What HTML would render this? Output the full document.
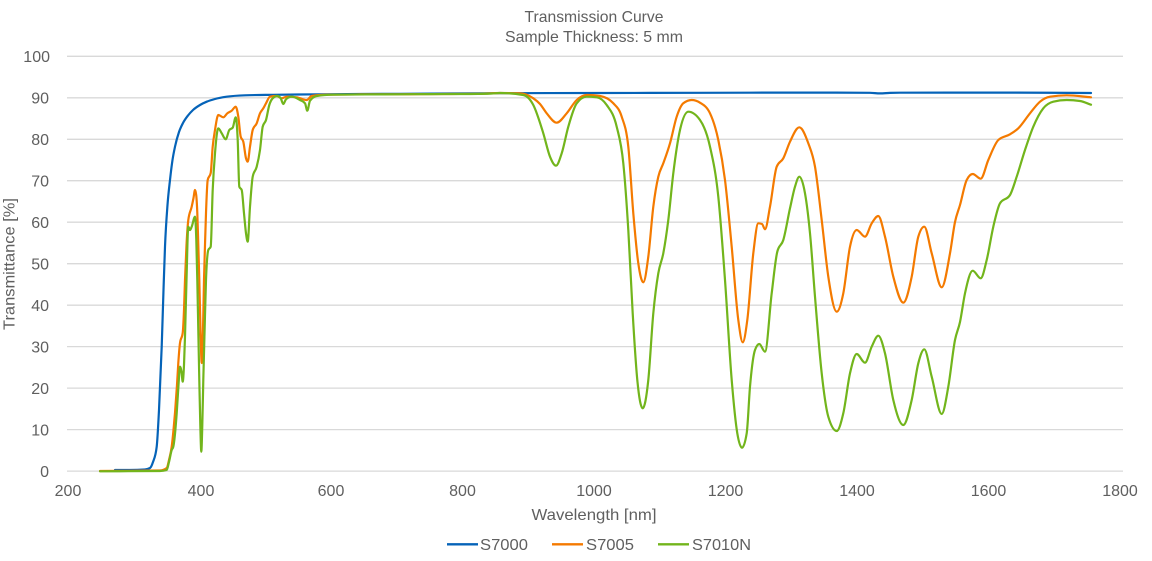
<!DOCTYPE html>
<html>
<head>
<meta charset="utf-8">
<style>
  html,body{margin:0;padding:0;background:#fff;}
  svg{display:block;}
  text{font-family:"Liberation Sans",sans-serif;fill:#5f5f5f;}
</style>
</head>
<body>
<svg id="chart" width="1152" height="561" viewBox="0 0 1152 561" xmlns="http://www.w3.org/2000/svg">
  <rect x="0" y="0" width="1152" height="561" fill="#fff"/>
  <!-- Title -->
  <text x="594" y="22" font-size="16" text-anchor="middle" textLength="139" lengthAdjust="spacingAndGlyphs">Transmission Curve</text>
  <text x="594" y="42" font-size="16" text-anchor="middle" textLength="178" lengthAdjust="spacingAndGlyphs">Sample Thickness: 5 mm</text>

  <!-- gridlines -->
  <g stroke="#d9d9d9" stroke-width="1.3">
    <line x1="67" x2="1123" y1="56.3" y2="56.3"/>
    <line x1="67" x2="1123" y1="97.8" y2="97.8"/>
    <line x1="67" x2="1123" y1="139.3" y2="139.3"/>
    <line x1="67" x2="1123" y1="180.7" y2="180.7"/>
    <line x1="67" x2="1123" y1="222.2" y2="222.2"/>
    <line x1="67" x2="1123" y1="263.7" y2="263.7"/>
    <line x1="67" x2="1123" y1="305.2" y2="305.2"/>
    <line x1="67" x2="1123" y1="346.6" y2="346.6"/>
    <line x1="67" x2="1123" y1="388.1" y2="388.1"/>
    <line x1="67" x2="1123" y1="429.6" y2="429.6"/>
    <line x1="67" x2="1123" y1="471.1" y2="471.1"/>
  </g>

  <!-- y tick labels -->
  <g font-size="16" text-anchor="end">
    <text x="50" y="62">100</text>
    <text x="49" y="103.5">90</text>
    <text x="49" y="145">80</text>
    <text x="49" y="186.5">70</text>
    <text x="49" y="228">60</text>
    <text x="49" y="269.5">50</text>
    <text x="49" y="311">40</text>
    <text x="49" y="352.5">30</text>
    <text x="49" y="394">20</text>
    <text x="49" y="435.5">10</text>
    <text x="49" y="477">0</text>
  </g>

  <!-- x tick labels -->
  <g font-size="16" text-anchor="middle">
    <text x="68" y="496">200</text>
    <text x="201" y="496">400</text>
    <text x="331" y="496">600</text>
    <text x="462.5" y="496">800</text>
    <text x="594" y="496">1000</text>
    <text x="725.5" y="496">1200</text>
    <text x="857" y="496">1400</text>
    <text x="988.5" y="496">1600</text>
    <text x="1120" y="496">1800</text>
  </g>

  <!-- axis titles -->
  <text x="594" y="520" font-size="16" text-anchor="middle" textLength="125" lengthAdjust="spacingAndGlyphs">Wavelength [nm]</text>
  <text transform="translate(14.5,264) rotate(-90)" x="0" y="0" font-size="16" text-anchor="middle" textLength="132" lengthAdjust="spacingAndGlyphs">Transmittance [%]</text>

  <!-- series -->
  <g id="series" fill="none" stroke-width="2.2" stroke-linejoin="round" stroke-linecap="round">
    <polyline stroke="#0563b8" points="115,470 130,470 145,469.5 150,468 153,462 156.7,446.7 159,410 161.7,346.7 163.5,290 165,246.7 167.5,205 170,180 172.5,160 175,146.7 179,132 183,123 188,115.5 193,110 200,105 206.7,101.7 215,99 226.7,96.7 245,95.3 273,94.8 320,94.3 400,93.8 500,93.2 600,93 700,92.8 800,92.6 870,92.8 880,93.4 890,92.9 900,92.7 1000,92.6 1091,93"/>
    <polyline stroke="#f47a00" points="100,471 160,470.5 166.7,468 169,460 171.7,446.7 173.5,430 175,413 177,385 178.3,363 180,343 182.7,333 184,310 185,280 186.5,245 188.3,220 191.7,206.7 193.5,198 195,190 196.2,195 197.3,213 198.3,245 199.3,280 200.5,330 201.7,363 203,330 204,280 205,245 206,213 207.7,180 210.7,173 212.7,146.7 215,130 218.3,115 223.3,117.3 227.3,113.3 231.7,110.7 235.7,106.7 238.3,116.7 240.7,136.7 243.3,141.7 246,158.3 247.7,161.7 250,146.7 252.7,130 256.7,123.3 260,113.3 263.3,108.3 266,103.3 270,96.7 276.7,96 281.7,98.3 286.7,96.7 296.7,97.3 306.7,100 311.7,96 326.7,94.7 360,94.4 400,94.3 420,94.2 450,94 480,93.8 500,93 520,93.3 533.3,98.3 540,104 546.7,113.3 556.7,122.7 566.7,113.3 576.7,100 586.7,95 600,96 613.3,103.3 621.7,116.7 628.3,146.7 633.3,213.3 638.3,263.3 643.3,282.3 648.3,256.7 653.3,206.7 658.3,176.7 663.3,163.3 670,143.3 676.7,116.7 683.3,103.3 691.7,100 700,102.7 710,113.3 718.3,140 725,180 731.7,246.7 738.3,320 742.7,342.3 747.3,320 753.3,253.3 758.3,223.3 762,224 765,229.3 770,206.7 776.7,166.7 783.3,158.3 790,141.7 799.3,127.3 808.3,143.3 815,166.7 821.7,220 828.3,276.7 836.7,311.7 843.3,293.3 850,246.7 856.7,230 865,236.7 871.7,223.3 878.3,216 885,236.7 893.3,276.7 903.3,302.7 911.7,276.7 918.3,236.7 924.3,226.7 931.7,253.3 941.7,287.3 950,253.3 955,222 960,205 966.7,180 972.7,174 980.7,178.7 988.3,160 998.3,140 1010,134.3 1018.3,128.3 1030,113.3 1040,101.7 1050,96.7 1066.7,95.3 1091,97.3"/>
    <polyline stroke="#72b51c" points="100,471.3 160,471 166.7,470 169,462 171.7,450 173.3,446.7 176.7,413.3 178.5,385 180,366.7 181.5,372 182.7,381.7 184,365 185,336.7 186.5,280 188.3,226.7 190,230 191.7,226.7 195,216.7 196.3,240 197.3,280 198.3,330 199.3,380 200.3,425 201.3,451.7 202.3,425 203.3,380 204.6,330 206,280 208.3,250 210.7,246.7 212.7,190 215,153.3 218.3,128.3 221.7,133.3 225.7,139.3 229.3,130 232.7,127.7 235.7,117.3 237.7,140 239.3,186.7 241.7,190 244,213.3 246,233.3 247.7,241.7 250,206.7 252.7,176.7 256.7,166.7 260,150 262.7,126.7 266,120 269.3,105 272.7,98.3 277.3,96 280.7,98.3 283.3,104 286,99.3 291.7,96.7 300,100 305,103.3 307.3,110.7 310,100.7 316.7,96 333.3,94.7 400,94.3 430,94.1 460,94 490,93.6 500,93 523.3,95 533.3,105 543.3,133.3 550,156.7 556,165.7 561.7,153.3 568.3,126.7 576.7,103.3 586.7,96.7 596.7,97.3 606.7,105 616.7,126.7 623.3,163.3 628.3,230 632.7,313.3 637.3,380 642.7,408.3 648.3,380 653.3,313.3 658.3,273.3 663.3,253.3 668.3,220 673.3,173.3 680,130 688.3,111.7 700,120 710,146.7 718.3,196.7 725,280 731.7,380 737.3,433.3 742,447.7 746.7,433.3 750,386.7 755,350 759.3,344 765,351.7 771.7,293.3 777.3,251.7 783.3,240 790,208.3 795,186.7 799.3,176.7 805,193.3 810,233.3 815,296.7 821.7,373.3 828.3,416.7 836.7,431 843.3,413.3 850,373.3 856.7,354 865,362.7 871.7,346.7 878.3,335.7 885,353.3 893.3,400 903.3,425 911.7,400 918.3,363.3 924.3,349.3 931.7,376.7 941.7,414 948.3,386.7 955,340 960,322 965,293.3 972.7,270.7 980.7,278.3 986.7,260 993.3,226.7 1000,203.3 1010,195 1016.7,176.7 1025,150 1033.3,126.7 1043.3,108.3 1053.3,101.7 1066.7,100 1080,101 1091,104.7"/>
  </g>

  <!-- legend -->
  <g stroke-width="2.3">
    <line x1="447" x2="478" y1="544.3" y2="544.3" stroke="#0563b8"/>
    <line x1="552" x2="583" y1="544.3" y2="544.3" stroke="#f47a00"/>
    <line x1="658" x2="689" y1="544.3" y2="544.3" stroke="#72b51c"/>
  </g>
  <g font-size="16">
    <text x="480" y="550" textLength="48" lengthAdjust="spacingAndGlyphs">S7000</text>
    <text x="586" y="550" textLength="48" lengthAdjust="spacingAndGlyphs">S7005</text>
    <text x="692" y="550" textLength="59" lengthAdjust="spacingAndGlyphs">S7010N</text>
  </g>
</svg>
<script>
(function(){
  var NS="http://www.w3.org/2000/svg";
  var polys=document.querySelectorAll("#series polyline");
  function sign(v){return v<0?-1:1;}
  for(var k=0;k<polys.length;k++){
    var pl=polys[k];
    var raw=pl.getAttribute("points").trim().split(/\s+/);
    var x=[],y=[];
    for(var i=0;i<raw.length;i++){var a=raw[i].split(",");x.push(+a[0]);y.push(+a[1]);}
    var n=x.length, s=[], h=[], m=[];
    for(var i=0;i<n-1;i++){h[i]=x[i+1]-x[i];s[i]=(y[i+1]-y[i])/h[i];}
    m[0]=s[0]; m[n-1]=s[n-2];
    for(var i=1;i<n-1;i++){
      var s0=s[i-1],s1=s[i],h0=h[i-1],h1=h[i];
      var p=(s0*h1+s1*h0)/(h0+h1);
      m[i]=(sign(s0)+sign(s1))*Math.min(Math.abs(s0),Math.abs(s1),0.5*Math.abs(p))||0;
    }
    var d="M"+x[0]+","+y[0];
    for(var i=0;i<n-1;i++){
      var dx=h[i]/3;
      d+="C"+(x[i]+dx).toFixed(2)+","+(y[i]+dx*m[i]).toFixed(2)+" "+(x[i+1]-dx).toFixed(2)+","+(y[i+1]-dx*m[i+1]).toFixed(2)+" "+x[i+1]+","+y[i+1];
    }
    var path=document.createElementNS(NS,"path");
    path.setAttribute("d",d);
    path.setAttribute("stroke",pl.getAttribute("stroke"));
    pl.parentNode.replaceChild(path,pl);
  }
})();
</script>
</body>
</html>
